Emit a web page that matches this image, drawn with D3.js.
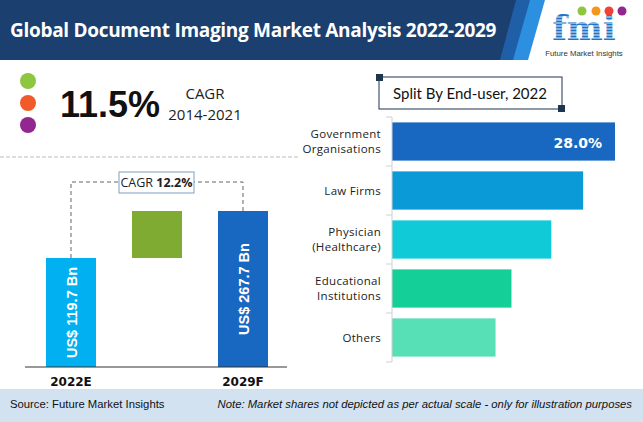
<!DOCTYPE html>
<html><head><meta charset="utf-8">
<script src="https://cdn.jsdelivr.net/npm/d3@7"></script>
<style>body{margin:0;background:#fff}svg{display:block}</style>
</head><body>
<svg id="c" width="643" height="422"></svg>
<script>
// ---- data ----
const title = "Global Document Imaging Market Analysis 2022-2029";
const cagrHeadline = "11.5%";
const cagrPeriod = "2014-2021";
const marketYears = ["2022E", "2029F"];
const marketValues = [119.7, 267.7];
const marketLabels = ["US$ 119.7 Bn", "US$ 267.7 Bn"];
const forecastCagr = "12.2%";
const segTitle = "Split By End-user, 2022";
const segCategories = [["Government", "Organisations"], ["Law Firms"], ["Physician", "(Healthcare)"], ["Educational", "Institutions"], ["Others"]];
const segValues = [28.0, 24.0, 20.0, 15.0, 13.0];
const segColors = ["#1868c2", "#0a9ad8", "#10cad8", "#14cf98", "#57dfb6"];
const source = "Source: Future Market Insights";
const note = "Note: Market shares not depicted as per actual scale - only for illustration purposes";

const svg = d3.select("#c");
const F = "'Open Sans', 'Liberation Sans', sans-serif";

// ---- header ----
svg.append("path").attr("d","M0,0 L545,0 L528,60 L0,60 Z").attr("fill","#2c8fe0");
svg.append("path").attr("d","M0,0 L530,0 L513,60 L0,60 Z").attr("fill","#1f5fa8");
svg.append("path").attr("d","M0,0 L516,0 L500,60 L0,60 Z").attr("fill","#1b3f6e");
svg.append("text").attr("x",10).attr("y",37).attr("fill","#fff").attr("font-family","'Open Sans', sans-serif")
  .attr("font-weight","bold").attr("font-size",19).attr("letter-spacing",-0.3).text(title);

// logo
const lg = svg.append("g");
lg.append("text").attr("x",584).attr("y",40).attr("text-anchor","middle").attr("font-family","'DejaVu Serif', serif")
  .attr("font-weight","bold").attr("font-size",34).attr("fill","#1e75c8").attr("letter-spacing",0).text("fmi");
for (let yy = 17; yy < 41; yy += 3) lg.append("line").attr("x1",545).attr("x2",625).attr("y1",yy).attr("y2",yy).attr("stroke","#fff").attr("stroke-width",0.9);
[["#8dc63f",582],["#f7941d",596],["#ef4136",609],["#92278f",622]].forEach(([c,x])=>{
  lg.append("circle").attr("cx",x).attr("cy",11).attr("r",4.5).attr("fill",c);
});
lg.append("text").attr("x",584).attr("y",56).attr("text-anchor","middle").attr("font-family","'Liberation Sans',sans-serif")
  .attr("font-size",7.8).attr("fill","#333").text("Future Market Insights");

// ---- CAGR headline ----
[["#8dc63f",81],["#f15a29",103],["#92278f",125]].forEach(([c,y])=>{
  svg.append("circle").attr("cx",28).attr("cy",y).attr("r",8).attr("fill",c);
});
svg.append("text").attr("x",60).attr("y",117).attr("font-family","'Liberation Sans', sans-serif").attr("font-weight","bold")
  .attr("font-size",36).attr("fill","#111").text(cagrHeadline);
svg.append("text").attr("x",205).attr("y",99).attr("text-anchor","middle").attr("font-family",F).attr("font-size",15).attr("fill","#222").text("CAGR");
svg.append("text").attr("x",205).attr("y",120).attr("text-anchor","middle").attr("font-family",F).attr("font-size",15).attr("fill","#222").text(cagrPeriod);
svg.append("line").attr("x1",0).attr("x2",300).attr("y1",157).attr("y2",157).attr("stroke","#bbb").attr("stroke-dasharray","4,2");

// ---- market bars ----
const base = 367;
const xc = d3.scalePoint().domain(["a","b","c"]).range([71, 243]);
// not-to-scale display scale
const y = d3.scaleLinear().domain([marketValues[0], marketValues[1]]).range([258, 211]);
const bw = 50;
const cx = [xc("a"), xc("c")];
const mColors = ["#00b0f0", "#1868c2"];
marketValues.forEach((v,i)=>{
  svg.append("rect").attr("x",cx[i]-bw/2).attr("y",y(v)).attr("width",bw).attr("height",base-y(v)).attr("fill",mColors[i]);
  svg.append("text").attr("transform",`translate(${cx[i]+5.5},${(base+y(v))/2}) rotate(-90)`).attr("text-anchor","middle")
    .attr("font-family","'Liberation Sans', sans-serif").attr("font-weight","bold").attr("font-size",14.5).attr("fill","#fff")
    .text(marketLabels[i]);
  svg.append("text").attr("x",cx[i]).attr("y",386).attr("text-anchor","middle").attr("font-family","'DejaVu Sans', sans-serif")
    .attr("font-weight","bold").attr("font-size",12).attr("fill","#111").text(marketYears[i]);
});
svg.append("rect").attr("x",xc("b")-bw/2).attr("y",y(marketValues[1])).attr("width",bw).attr("height",y(marketValues[0])-y(marketValues[1])).attr("fill","#7fab32");
svg.append("line").attr("x1",25).attr("x2",287).attr("y1",base).attr("y2",base).attr("stroke","#333").attr("stroke-width",1);
// connector
const topY = 182;
svg.append("path").attr("d",`M${cx[0]},${y(marketValues[0])} V${topY} H${cx[1]} V${y(marketValues[1])}`)
  .attr("fill","none").attr("stroke","#666").attr("stroke-dasharray","4,3");
svg.append("rect").attr("x",119).attr("y",172).attr("width",75).attr("height",21).attr("fill","#fff").attr("stroke","#7f9fbf");
const ct = svg.append("text").attr("x",156.5).attr("y",187).attr("text-anchor","middle").attr("font-family",F).attr("font-size",12.5).attr("fill","#222");
ct.append("tspan").text("CAGR ");
ct.append("tspan").attr("font-weight","bold").text(forecastCagr);

// ---- segment chart ----
svg.append("rect").attr("x",379).attr("y",77).attr("width",183).attr("height",32).attr("fill","#fff").attr("stroke","#1e3550").attr("stroke-width",1);
svg.append("rect").attr("x",376).attr("y",74).attr("width",7).attr("height",7).attr("fill","#1e3550");
svg.append("rect").attr("x",558).attr("y",105).attr("width",7).attr("height",7).attr("fill","#1e3550");
svg.append("text").attr("x",470).attr("y",99).attr("text-anchor","middle").attr("font-family","'Lato', 'Open Sans', sans-serif")
  .attr("font-size",15).attr("fill","#111").text(segTitle);

const keys = segCategories.map(d=>d.join(" "));
const yb = d3.scaleBand().domain(keys).range([117, 362]).paddingInner(0.22).paddingOuter(0.11);
const xs = d3.scaleLinear().domain([0, 28]).range([392, 615]);
svg.selectAll(".sb").data(segValues).join("rect").attr("x",xs(0)).attr("y",(d,i)=>yb(keys[i]))
  .attr("width",d=>xs(d)-xs(0)).attr("height",yb.bandwidth()).attr("fill",(d,i)=>segColors[i]);
// axis line and ticks
svg.append("line").attr("x1",392).attr("x2",392).attr("y1",117).attr("y2",362).attr("stroke","#d0d0d0");
d3.range(keys.length+1).forEach(i=>{
  const yy = 117 + i*(245/keys.length);
  svg.append("line").attr("x1",386).attr("x2",392).attr("y1",yy).attr("y2",yy).attr("stroke","#d0d0d0");
});
segCategories.forEach((lines,i)=>{
  const cy = yb(keys[i]) + yb.bandwidth()/2;
  const t = svg.append("text").attr("text-anchor","end").attr("font-family","'Open Sans', sans-serif").attr("font-size",11.5)
    .attr("fill","#222").attr("letter-spacing",0.3);
  lines.forEach((l,j)=>{
    t.append("tspan").attr("x",381).attr("y",cy + 4 + (j-(lines.length-1)/2)*15.5).text(l);
  });
});
svg.append("text").attr("x",602).attr("y",148).attr("text-anchor","end").attr("font-family","'DejaVu Sans', sans-serif")
  .attr("font-weight","bold").attr("font-size",14).attr("fill","#fff").text(segValues[0].toFixed(1)+"%");

// ---- footer ----
svg.append("rect").attr("x",0).attr("y",389).attr("width",643).attr("height",33).attr("fill","#d3e2f1");
svg.append("text").attr("x",10).attr("y",408).attr("font-family","'Liberation Sans',sans-serif").attr("font-size",11.3).attr("fill","#111")
  .text(source);
svg.append("text").attr("x",632).attr("y",408).attr("text-anchor","end").attr("font-family","'Liberation Sans',sans-serif").attr("font-style","italic").attr("font-size",11.3).attr("fill","#111")
  .text(note);
</script>
</body></html>
